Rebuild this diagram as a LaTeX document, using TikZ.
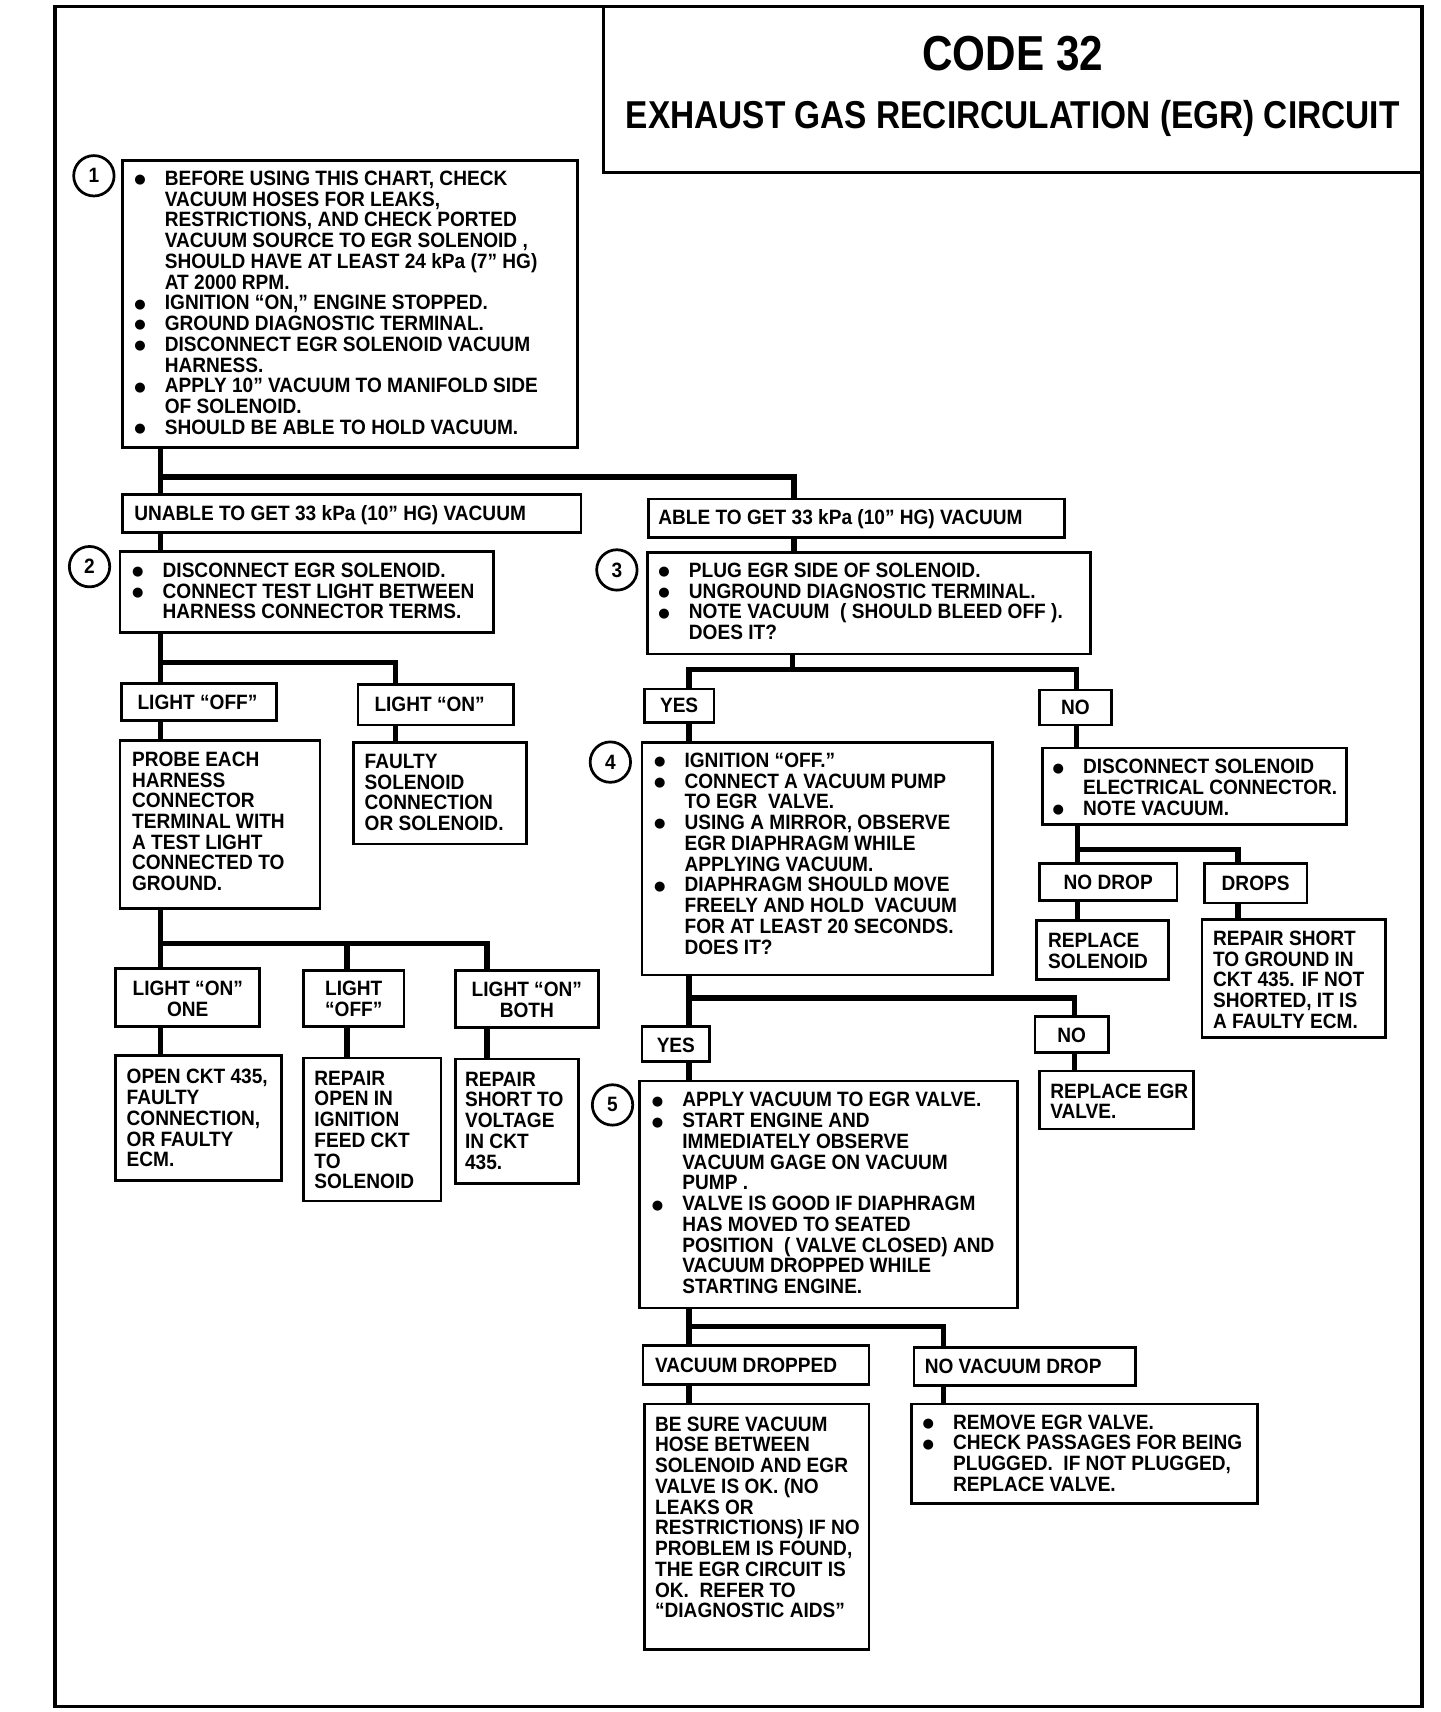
\documentclass[tikz,border=0pt]{standalone}
\usepackage{fontspec}
\newfontfamily\bodyfont[FakeStretch=0.92]{Liberation Sans}
\newfontfamily\titlefont[FakeStretch=0.86]{Liberation Sans}
\newfontfamily\symfont{DejaVu Sans}
\hfuzz=\maxdimen \vfuzz=\maxdimen \hbadness=10000 \vbadness=10000
\newlength\bulsep \setlength\bulsep{27pt}
\newcommand{\Ln}[1]{\par\leavevmode\hbox{\rule[-4pt]{0pt}{19pt}#1}}
\newcommand{\Bl}[1]{\par\leavevmode\llap{\hbox to\bulsep{\hspace{-1pt}\raisebox{1.5pt}{\symfont\fontsize{12}{12}\selectfont ●}\hfil}}\hbox{\rule[-4pt]{0pt}{19pt}#1}}
\newcommand{\Cn}[1]{\par\leavevmode\hbox to\linewidth{\hfil\rule[-4pt]{0pt}{19pt}#1\hfil}}
\tikzset{
  box/.style={draw,line width=2.5pt,inner sep=0pt,outer sep=0pt,anchor=north west},
  conn/.style={line width=5pt,line join=miter},
  circ/.style={draw,circle,line width=2.5pt,minimum size=37pt,inner sep=0pt,font=\bodyfont\bfseries\fontsize{19}{19}\selectfont},
}
\newcommand{\bx}[8]{\node[box] (#1) at (#2,#3) {\parbox[t][\dimexpr#5pt-#3pt\relax][t]{\dimexpr#4pt-#2pt\relax}{\bodyfont\bfseries\fontsize{19}{19}\selectfont\leftskip=#6pt\rightskip=0pt plus 1fil\vspace*{\dimexpr#7pt-15pt\relax}#8}};}
\begin{document}
\begin{tikzpicture}[x=1pt,y=-1pt]
\useasboundingbox (0,0) rectangle (1319,1568);
% frame
\draw[line width=3.5pt] (50,6) rectangle (1302,1563);
% title
\node[box,line width=3pt] (title) at (553,6) {\parbox[t][152pt][t]{749pt}{\titlefont\bfseries\vspace*{59pt}\hbox to\linewidth{\hfil\smash{\fontsize{45}{45}\selectfont CODE 32}\hfil}\par\nointerlineskip\vspace*{53pt}\hbox to\linewidth{\hfil\smash{\fontsize{35.6}{36}\selectfont EXHAUST GAS RECIRCULATION (EGR) CIRCUIT}\hfil}}};
% circles
\node[circ] (c1) at (86,161) {1};
\node[circ] (c2) at (82,519) {2};
\node[circ] (c3) at (565,522) {3};
\node[circ] (c4) at (559,698) {4};
\node[circ] (c5) at (561,1012) {5};
% boxes
\bx{b1}{112}{147}{529}{410}{39}{22.8}{\Bl{BEFORE USING THIS CHART, CHECK}\Ln{VACUUM HOSES FOR LEAKS,}\Ln{RESTRICTIONS, AND CHECK PORTED}\Ln{VACUUM SOURCE TO EGR SOLENOID ,}\Ln{SHOULD HAVE AT LEAST 24 kPa (7” HG)}\Ln{AT 2000 RPM.}\Bl{IGNITION “ON,” ENGINE STOPPED.}\Bl{GROUND DIAGNOSTIC TERMINAL.}\Bl{DISCONNECT EGR SOLENOID VACUUM}\Ln{HARNESS.}\Bl{APPLY 10” VACUUM TO MANIFOLD SIDE}\Ln{OF SOLENOID.}\Bl{SHOULD BE ABLE TO HOLD VACUUM.}}
\bx{unable}{112}{453}{532}{488}{11}{23.8}{\Ln{UNABLE TO GET 33 kPa (10” HG) VACUUM}}
\bx{able}{594}{457}{975}{492}{9}{23.8}{\Ln{ABLE TO GET 33 kPa (10” HG) VACUUM}}
\bx{b2}{110}{505}{452}{579}{39}{23.8}{\Bl{DISCONNECT EGR SOLENOID.}\Bl{CONNECT TEST LIGHT BETWEEN}\Ln{HARNESS CONNECTOR TERMS.}}
\bx{b3}{593}{506}{999}{599}{38}{22.8}{\Bl{PLUG EGR SIDE OF SOLENOID.}\Bl{UNGROUND DIAGNOSTIC TERMINAL.}\Bl{NOTE VACUUM \ ( SHOULD BLEED OFF ).}\Ln{DOES IT?}}
\bx{loff}{111}{626}{253}{660}{15}{23.8}{\Ln{LIGHT “OFF”}}
\bx{lon}{328}{627}{470}{664}{15}{24.8}{\Ln{LIGHT “ON”}}
\bx{probe}{110}{678}{293}{832}{11}{23.8}{\Ln{PROBE EACH}\Ln{HARNESS}\Ln{CONNECTOR}\Ln{TERMINAL WITH}\Ln{A TEST LIGHT}\Ln{CONNECTED TO}\Ln{GROUND.}}
\bx{faulty}{324}{680}{482}{773}{10}{23.8}{\Ln{FAULTY}\Ln{SOLENOID}\Ln{CONNECTION}\Ln{OR SOLENOID.}}
\bx{lone}{106}{887}{238}{940}{0}{24.8}{\Cn{LIGHT “ON”}\Cn{ONE}}
\bx{loff2}{278}{889}{370}{940}{0}{22.8}{\Cn{LIGHT}\Cn{“OFF”}}
\bx{lboth}{417}{889}{548}{941}{0}{23.8}{\Cn{LIGHT “ON”}\Cn{BOTH}}
\bx{openckt}{106}{967}{258}{1081}{10}{25.8}{\Ln{OPEN CKT 435,}\Ln{FAULTY}\Ln{CONNECTION,}\Ln{OR FAULTY}\Ln{ECM.}}
\bx{repopen}{278}{969}{404}{1100}{10}{24.8}{\Ln{REPAIR}\Ln{OPEN IN}\Ln{IGNITION}\Ln{FEED CKT}\Ln{TO}\Ln{SOLENOID}}
\bx{repshort}{417}{970}{530}{1084}{9}{24.8}{\Ln{REPAIR}\Ln{SHORT TO}\Ln{VOLTAGE}\Ln{IN CKT}\Ln{435.}}
\bx{yes1}{590}{631}{654}{662}{0}{21.8}{\Cn{YES}}
\bx{no1}{952}{632}{1018}{664}{0}{22.8}{\Cn{NO}}
\bx{b4}{588}{680}{909}{893}{39}{22.8}{\Bl{IGNITION “OFF.”}\Bl{CONNECT A VACUUM PUMP}\Ln{TO EGR \ VALVE.}\Bl{USING A MIRROR, OBSERVE}\Ln{EGR DIAPHRAGM WHILE}\Ln{APPLYING VACUUM.}\Bl{DIAPHRAGM SHOULD MOVE}\Ln{FREELY AND HOLD \ VACUUM}\Ln{FOR AT LEAST 20 SECONDS.}\Ln{DOES IT?}}
\bx{sol}{955}{685}{1233}{755}{37}{23.8}{\Bl{DISCONNECT SOLENOID}\Ln{ELECTRICAL CONNECTOR.}\Bl{NOTE VACUUM.}}
\bx{nodrop}{952}{791}{1078}{825}{0}{23.8}{\Cn{NO DROP}}
\bx{drops}{1103}{791}{1197}{827}{0}{24.8}{\Cn{DROPS}}
\bx{repsol}{949}{843}{1070}{897}{11}{24.8}{\Ln{REPLACE}\Ln{SOLENOID}}
\bx{repgnd}{1101}{842}{1269}{950}{10}{23.8}{\Ln{REPAIR SHORT}\Ln{TO GROUND IN}\Ln{CKT 435. IF NOT}\Ln{SHORTED, IT IS}\Ln{A FAULTY ECM.}}
\bx{yes2}{588}{940}{650}{972}{0}{23.8}{\Cn{YES}}
\bx{no2}{948}{931}{1015}{964}{0}{23.8}{\Cn{NO}}
\bx{repegr}{952}{981}{1093}{1034}{10}{24.8}{\Ln{REPLACE EGR}\Ln{VALVE.}}
\bx{b5}{586}{990}{932}{1198}{39}{23.8}{\Bl{APPLY VACUUM TO EGR VALVE.}\Bl{START ENGINE AND}\Ln{IMMEDIATELY OBSERVE}\Ln{VACUUM GAGE ON VACUUM}\Ln{PUMP .}\Bl{VALVE IS GOOD IF DIAPHRAGM}\Ln{HAS MOVED TO SEATED}\Ln{POSITION \ ( VALVE CLOSED) AND}\Ln{VACUUM DROPPED WHILE}\Ln{STARTING ENGINE.}}
\bx{vacd}{589}{1232}{796}{1268}{11}{24.8}{\Ln{VACUUM DROPPED}}
\bx{novac}{837}{1234}{1040}{1269}{10}{23.8}{\Ln{NO VACUUM DROP}}
\bx{besure}{590}{1286}{796}{1511}{10}{24.8}{\Ln{BE SURE VACUUM}\Ln{HOSE BETWEEN}\Ln{SOLENOID AND EGR}\Ln{VALVE IS OK. (NO}\Ln{LEAKS OR}\Ln{RESTRICTIONS) IF NO}\Ln{PROBLEM IS FOUND,}\Ln{THE EGR CIRCUIT IS}\Ln{OK. \ REFER TO}\Ln{“DIAGNOSTIC AIDS”}}
\bx{remove}{835}{1286}{1152}{1377}{38}{22.8}{\Bl{REMOVE EGR VALVE.}\Bl{CHECK PASSAGES FOR BEING}\Ln{PLUGGED. \ IF NOT PLUGGED,}\Ln{REPLACE VALVE.}}
% connectors
\coordinate (jA) at (147,437); \coordinate (kA) at (727,437);
\draw[conn] (b1.south -| jA) -- (unable.north -| jA);
\draw[conn] (jA) -- (kA) -- (able.north -| kA);
\draw[conn] (unable.south -| jA) -- (b2.north -| jA);
\draw[conn] (able.south -| kA) -- (b3.north -| kA);
\coordinate (jB) at (147,607); \coordinate (kB) at (362,607);
\draw[conn] (b2.south -| jB) -- (loff.north -| jB);
\draw[conn] (jB) -- (kB) -- (lon.north -| kB);
\draw[conn] (loff.south -| jB) -- (probe.north -| jB);
\draw[conn] (lon.south -| kB) -- (faulty.north -| kB);
\coordinate (jC) at (147,864); \coordinate (mC) at (318,864); \coordinate (kC) at (446,864);
\draw[conn] (probe.south -| jC) -- (lone.north -| jC);
\draw[conn] (jC) -- (kC) -- (lboth.north -| kC);
\draw[conn] (mC) -- (loff2.north -| mC);
\draw[conn] (lone.south -| jC) -- (openckt.north -| jC);
\draw[conn] (loff2.south -| mC) -- (repopen.north -| mC);
\draw[conn] (lboth.south -| kC) -- (repshort.north -| kC);
\coordinate (jD) at (631,613); \coordinate (mD) at (726,613); \coordinate (kD) at (986,613);
\draw[conn] (b3.south -| mD) -- (mD);
\draw[conn] (yes1.north -| jD) -- (jD) -- (kD) -- (no1.north -| kD);
\draw[conn] (yes1.south -| jD) -- (b4.north -| jD);
\draw[conn] (no1.south -| kD) -- (sol.north -| kD);
\coordinate (jE) at (987,778); \coordinate (kE) at (1134,778);
\draw[conn] (sol.south -| jE) -- (nodrop.north -| jE);
\draw[conn] (jE) -- (kE) -- (drops.north -| kE);
\draw[conn] (nodrop.south -| jE) -- (repsol.north -| jE);
\draw[conn] (drops.south -| kE) -- (repgnd.north -| kE);
\coordinate (jF) at (631,914); \coordinate (kF) at (984,914);
\draw[conn] (b4.south -| jF) -- (yes2.north -| jF);
\draw[conn] (jF) -- (kF) -- (no2.north -| kF);
\draw[conn] (yes2.south -| jF) -- (b5.north -| jF);
\draw[conn] (no2.south -| kF) -- (repegr.north -| kF);
\coordinate (jG) at (631,1215); \coordinate (kG) at (864,1215);
\draw[conn] (b5.south -| jG) -- (vacd.north -| jG);
\draw[conn] (jG) -- (kG) -- (novac.north -| kG);
\draw[conn] (vacd.south -| jG) -- (besure.north -| jG);
\draw[conn] (novac.south -| kG) -- (remove.north -| kG);
\end{tikzpicture}
\end{document}
